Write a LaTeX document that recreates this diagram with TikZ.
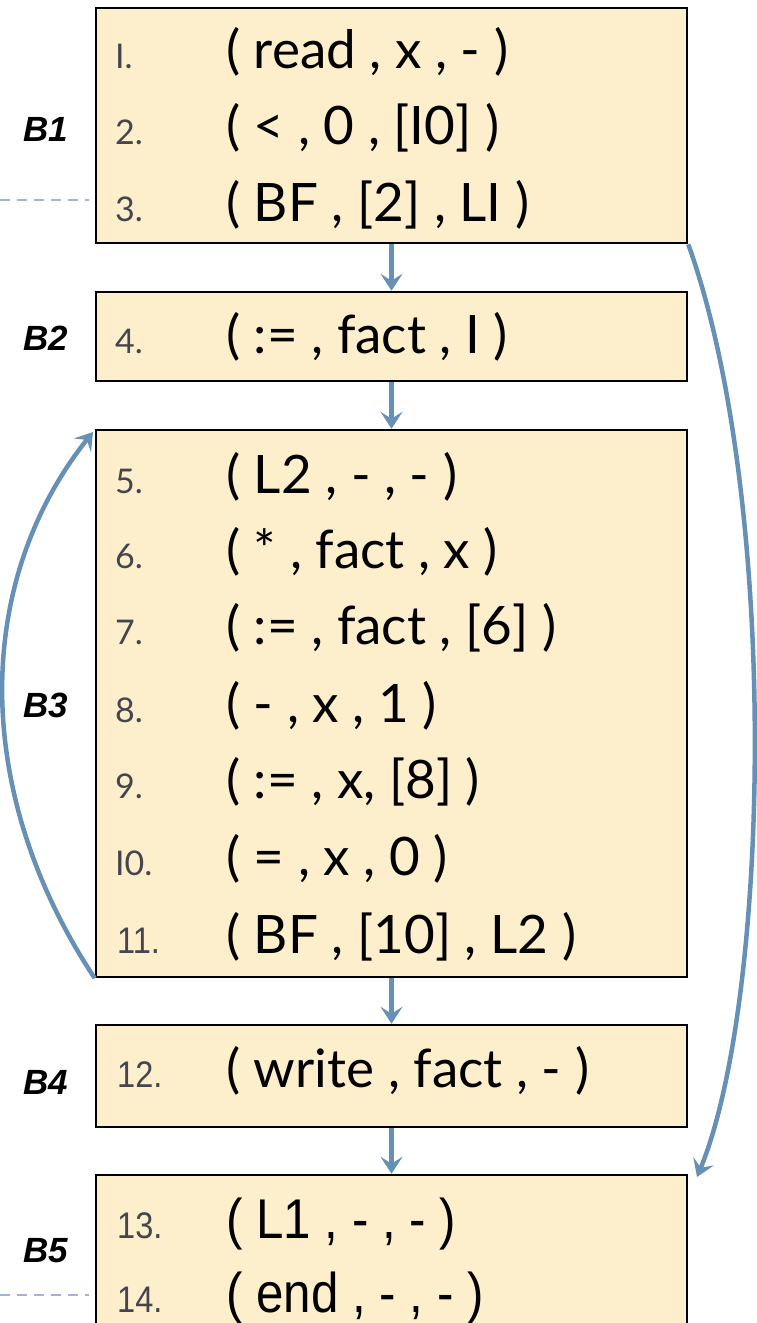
\documentclass[tikz,border=0pt]{standalone}
\usepackage{fontspec}
\setmainfont{Lato}
\newfontfamily\labelfont{Liberation Sans}
\newfontfamily\narrowfont[FakeStretch=0.88]{Liberation Sans}
\usetikzlibrary{arrows.meta}
\definecolor{boxfill}{HTML}{FDEFCC}
\definecolor{flowblue}{HTML}{6690B5}
\definecolor{numgray}{HTML}{45454F}
\definecolor{cutblue}{HTML}{A0B6CE}
\tikzset{
  block/.style={draw=black, line width=2.5pt, fill=boxfill, minimum width=591pt, inner sep=0pt},
  flow/.style={draw=flowblue, line width=4.5pt, -{Stealth[length=17pt,width=22pt,inset=7pt]}},
  lineno/.style={anchor=base west, inner sep=0pt, text=numgray, font=\fontsize{34}{34}\selectfont},
  instr/.style={anchor=base west, inner sep=0pt, font=\fontsize{53}{53}\selectfont},
  linenob/.style={lineno, font=\narrowfont\fontsize{37}{37}\selectfont},
  instrb/.style={instr, font=\narrowfont\fontsize{56}{56}\selectfont},
  blocklabel/.style={anchor=base, inner sep=0pt, font=\labelfont\bfseries\itshape\fontsize{35}{35}\selectfont},
  cut/.style={draw=cutblue, line width=2pt, dash pattern=on 10pt off 7pt}
}
\begin{document}
\begin{tikzpicture}[x=1pt, y=-1pt]
	\useasboundingbox (0,0) rectangle (757,1323);
	\clip (0,0) rectangle (757,1323);
	
	% basic blocks
	\node[block, minimum height=235pt] (b1) at (391.5,125.5) {};
	\node[block, minimum height=89pt] (b2) at (391.5,336.5) {};
	\node[block, minimum height=547pt] (b3) at (391.5,703.5) {};
	\node[block, minimum height=102pt] (b4) at (391.5,1076) {};
	\node[block, minimum height=200pt] (b5) at (391.5,1275) {};
	
	% block names
	\node[blocklabel] (l1) at (46,141) {B1};
	\node[blocklabel] (l2) at (46,350) {B2};
	\node[blocklabel] (l3) at (46,717) {B3};
	\node[blocklabel] (l4) at (46,1094) {B4};
	\node[blocklabel] (l5) at (46,1262) {B5};
	
	% quadruples
	\node[lineno] (n1) at (115,68) {I.};
	\node[instr] (q1) at (226,68) {( read , x , - )};
	\node[lineno] (n2) at (115,144) {2.};
	\node[instr] (q2) at (226,144) {( < , 0 , [I0] )};
	\node[lineno] (n3) at (115,221) {3.};
	\node[instr] (q3) at (226,221) {( BF , [2] , LI )};
	\node[lineno] (n4) at (115,353) {4.};
	\node[instr] (q4) at (226,353) {( := , fact , I )};
	\node[lineno] (n5) at (115,493) {5.};
	\node[instr] (q5) at (226,493) {( L2 , - , - )};
	\node[lineno] (n6) at (115,568) {6.};
	\node[instr] (q6) at (226,568) {( * , fact , x )};
	\node[lineno] (n7) at (115,644) {7.};
	\node[instr] (q7) at (226,644) {( := , fact , [6] )};
	\node[lineno] (n8) at (115,722) {8.};
	\node[instr] (q8) at (226,722) {( - , x , 1 )};
	\node[lineno] (n9) at (115,798) {9.};
	\node[instr] (q9) at (226,798) {( := , x, [8] )};
	\node[lineno] (n10) at (115,875) {I0.};
	\node[instr] (q10) at (226,875) {( = , x , 0 )};
	\node[linenob] (n11) at (117,953) {11.};
	\node[instr] (q11) at (226,953) {( BF , [10] , L2 )};
	\node[linenob] (n12) at (117,1087) {12.};
	\node[instr] (q12) at (226,1087) {( write , fact , - )};
	\node[linenob] (n13) at (117,1238) {13.};
	\node[instrb] (q13) at (226,1238) {( L1 , - , - )};
	\node[linenob] (n14) at (117,1312) {14.};
	\node[instrb] (q14) at (226,1312) {( end , - , - )};
	
	% fall-through edges
	\draw[flow] (b1.south) -- (b2.north);
	\draw[flow] (b2.south) -- (b3.north);
	\draw[flow] (b3.south) -- (b4.north);
	\draw[flow] (b4.south) -- (b5.north);
	
	% jumps
	\coordinate (j1) at (697,1177);
	\draw[flow] (b1.south east) .. controls (780,500) and (770,1000) .. (j1);
	\coordinate (j2) at (93,432);
	\draw[flow] (b3.south west) .. controls (-30,790) and (-25,580) .. (j2);
	
	% cuts
	\coordinate (c1) at (0,200);
	\coordinate (c2) at (0,1295);
	\draw[cut] (c1) -- ([xshift=-6pt]c1 -| b1.west);
	\draw[cut] (c2) -- ([xshift=-6pt]c2 -| b5.west);
\end{tikzpicture}
\end{document}
